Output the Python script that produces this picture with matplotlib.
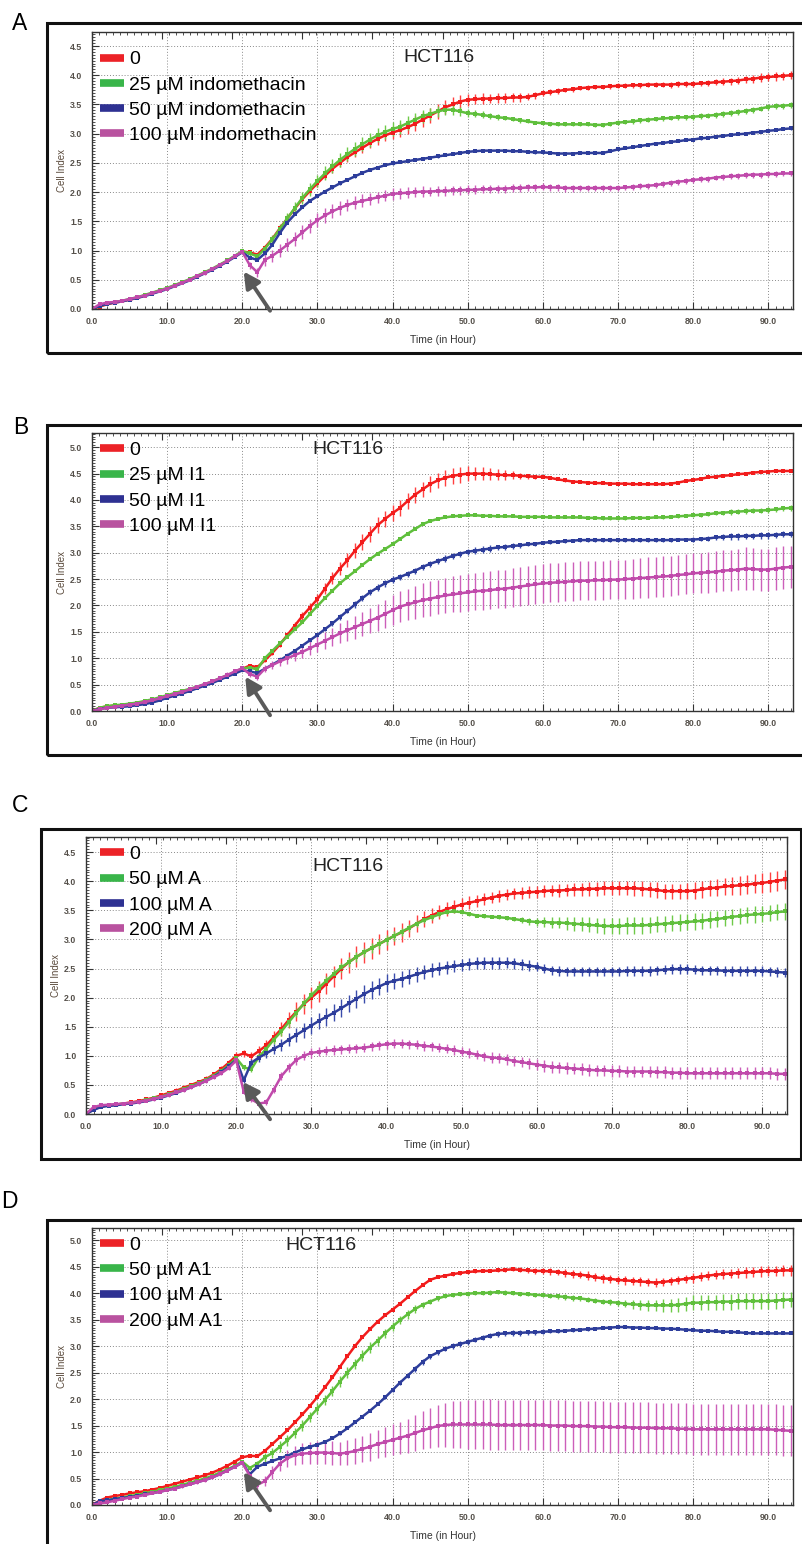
import numpy as np
import matplotlib
matplotlib.use('Agg')
import matplotlib.pyplot as plt
from matplotlib.lines import Line2D
from matplotlib.patches import Rectangle
from matplotlib.ticker import MultipleLocator, FormatStrFormatter

plt.rcParams['font.family'] = ['Liberation Sans', 'DejaVu Sans']

W, H = 802, 1544
hours = list(range(94))   # one reading per hour, 0 .. 93 h

# ---------------- panel A : indomethacin ----------------
A_red = [0.00, 0.04, 0.08, 0.11, 0.13, 0.16, 0.19, 0.23, 0.27, 0.31,
         0.35, 0.40, 0.45, 0.50, 0.56, 0.62, 0.68, 0.75, 0.82, 0.90,
         0.98, 0.97, 0.93, 1.05, 1.20, 1.38, 1.55, 1.72, 1.88, 2.02,
         2.15, 2.28, 2.40, 2.50, 2.60, 2.68, 2.76, 2.84, 2.91, 2.97,
         3.02, 3.06, 3.11, 3.17, 3.24, 3.31, 3.38, 3.45, 3.50, 3.55,
         3.58, 3.59, 3.60, 3.60, 3.61, 3.61, 3.62, 3.62, 3.63, 3.66,
         3.69, 3.71, 3.73, 3.75, 3.76, 3.78, 3.79, 3.80, 3.80, 3.81,
         3.82, 3.82, 3.83, 3.83, 3.84, 3.84, 3.84, 3.84, 3.85, 3.85,
         3.85, 3.86, 3.87, 3.88, 3.89, 3.90, 3.91, 3.93, 3.94, 3.96,
         3.97, 3.98, 3.99, 4.00]
A_red_err = [0, 1, 1, 1, 1, 1, 1, 1, 1, 1,
             1, 1, 1, 1, 1, 2, 2, 2, 2, 2,
             2, 3, 3, 3, 4, 4, 5, 5, 5, 6,
             6, 6, 7, 7, 8, 8, 9, 9, 10, 10,
             11, 12, 12, 13, 13, 13, 13, 12, 12, 11,
             10, 9, 9, 8, 8, 8, 7, 7, 6, 6,
             5, 5, 5, 4, 4, 4, 4, 4, 4, 4,
             4, 4, 4, 4, 4, 4, 4, 5, 5, 5,
             5, 5, 5, 5, 6, 6, 6, 6, 7, 7,
             7, 7, 7, 7]
A_green = [0.00, 0.05, 0.09, 0.12, 0.14, 0.17, 0.20, 0.24, 0.28, 0.32,
           0.36, 0.41, 0.46, 0.51, 0.57, 0.63, 0.69, 0.76, 0.83, 0.91,
           0.99, 0.95, 0.90, 1.03, 1.19, 1.37, 1.55, 1.73, 1.90, 2.05,
           2.19, 2.32, 2.44, 2.55, 2.65, 2.74, 2.82, 2.90, 2.97, 3.03,
           3.08, 3.12, 3.18, 3.24, 3.30, 3.34, 3.38, 3.41, 3.41, 3.38,
           3.35, 3.34, 3.32, 3.30, 3.28, 3.27, 3.25, 3.23, 3.21, 3.19,
           3.18, 3.17, 3.16, 3.16, 3.16, 3.16, 3.16, 3.15, 3.15, 3.17,
           3.19, 3.20, 3.21, 3.23, 3.24, 3.25, 3.26, 3.27, 3.28, 3.28,
           3.29, 3.30, 3.31, 3.32, 3.34, 3.35, 3.37, 3.39, 3.41, 3.43,
           3.46, 3.47, 3.48, 3.49]
A_green_err = [0, 1, 1, 1, 1, 1, 1, 1, 2, 2,
               2, 2, 2, 2, 2, 2, 2, 3, 3, 3,
               4, 5, 6, 7, 8, 9, 10, 10, 11, 11,
               11, 12, 12, 12, 12, 12, 12, 12, 12, 12,
               12, 12, 12, 11, 11, 10, 10, 9, 9, 8,
               7, 6, 6, 5, 5, 4, 4, 4, 3, 3,
               3, 3, 3, 3, 3, 3, 3, 3, 3, 3,
               4, 4, 4, 4, 4, 4, 4, 4, 4, 4,
               5, 5, 5, 5, 5, 5, 5, 5, 5, 5,
               5, 5, 5, 5]
A_blue = [0.00, 0.05, 0.09, 0.11, 0.13, 0.16, 0.19, 0.22, 0.26, 0.30,
          0.34, 0.39, 0.44, 0.49, 0.55, 0.61, 0.67, 0.74, 0.81, 0.89,
          0.97, 0.88, 0.84, 0.95, 1.10, 1.30, 1.48, 1.62, 1.74, 1.85,
          1.93, 2.01, 2.08, 2.15, 2.21, 2.27, 2.33, 2.38, 2.42, 2.46,
          2.49, 2.51, 2.53, 2.55, 2.57, 2.59, 2.61, 2.63, 2.65, 2.67,
          2.69, 2.70, 2.71, 2.71, 2.71, 2.71, 2.70, 2.70, 2.69, 2.68,
          2.68, 2.67, 2.66, 2.66, 2.66, 2.67, 2.67, 2.67, 2.67, 2.70,
          2.73, 2.75, 2.77, 2.79, 2.81, 2.83, 2.84, 2.86, 2.87, 2.89,
          2.90, 2.92, 2.93, 2.95, 2.96, 2.98, 2.99, 3.00, 3.02, 3.03,
          3.05, 3.06, 3.08, 3.09]
A_blue_err = [0, 1, 1, 1, 1, 1, 1, 1, 1, 1,
              1, 1, 1, 1, 1, 1, 1, 1, 1, 1,
              1, 2, 2, 2, 2, 2, 2, 2, 2, 2,
              2, 2, 2, 2, 2, 2, 2, 2, 2, 2,
              2, 2, 2, 2, 2, 2, 2, 2, 2, 2,
              2, 2, 2, 2, 2, 2, 2, 2, 2, 2,
              2, 2, 2, 2, 2, 2, 2, 2, 2, 2,
              2, 2, 2, 2, 2, 2, 2, 2, 2, 2,
              2, 2, 2, 2, 2, 2, 2, 2, 2, 2,
              2, 2, 2, 2]
A_mag = [0.00, 0.08, 0.11, 0.12, 0.14, 0.17, 0.20, 0.23, 0.27, 0.31,
         0.35, 0.40, 0.45, 0.50, 0.56, 0.62, 0.68, 0.75, 0.82, 0.90,
         0.98, 0.75, 0.63, 0.84, 0.91, 1.00, 1.10, 1.20, 1.31, 1.42,
         1.52, 1.60, 1.67, 1.73, 1.78, 1.82, 1.85, 1.88, 1.91, 1.94,
         1.97, 1.98, 1.99, 2.00, 2.01, 2.01, 2.02, 2.02, 2.03, 2.03,
         2.04, 2.04, 2.05, 2.05, 2.06, 2.06, 2.07, 2.07, 2.08, 2.08,
         2.09, 2.08, 2.08, 2.07, 2.07, 2.07, 2.07, 2.07, 2.07, 2.07,
         2.07, 2.08, 2.09, 2.10, 2.11, 2.12, 2.14, 2.16, 2.18, 2.19,
         2.21, 2.22, 2.23, 2.25, 2.26, 2.27, 2.28, 2.29, 2.30, 2.30,
         2.31, 2.31, 2.32, 2.32]
A_mag_err = [0, 2, 2, 2, 2, 2, 2, 2, 2, 2,
             2, 2, 2, 2, 2, 3, 3, 3, 3, 3,
             4, 6, 8, 10, 10, 11, 11, 12, 12, 12,
             12, 12, 12, 12, 11, 11, 11, 10, 10, 10,
             10, 9, 9, 9, 9, 8, 8, 8, 8, 8,
             8, 8, 7, 7, 7, 7, 7, 7, 6, 6,
             6, 6, 6, 6, 6, 5, 5, 5, 5, 5,
             5, 5, 5, 5, 5, 5, 5, 5, 5, 5,
             5, 5, 5, 5, 5, 5, 5, 5, 5, 5,
             5, 5, 5, 5]

# ---------------- panel B : I1 ----------------
B_red = [0.00, 0.06, 0.09, 0.10, 0.11, 0.12, 0.14, 0.17, 0.20, 0.24,
         0.29, 0.32, 0.36, 0.40, 0.45, 0.50, 0.55, 0.61, 0.67, 0.73,
         0.80, 0.86, 0.83, 0.96, 1.10, 1.26, 1.44, 1.62, 1.80, 1.96,
         2.12, 2.32, 2.52, 2.70, 2.86, 3.04, 3.20, 3.36, 3.52, 3.64,
         3.75, 3.85, 3.98, 4.10, 4.20, 4.30, 4.37, 4.42, 4.46, 4.48,
         4.50, 4.50, 4.50, 4.49, 4.48, 4.47, 4.47, 4.46, 4.45, 4.44,
         4.44, 4.42, 4.39, 4.37, 4.35, 4.34, 4.33, 4.32, 4.32, 4.31,
         4.31, 4.31, 4.30, 4.30, 4.30, 4.30, 4.30, 4.31, 4.33, 4.36,
         4.38, 4.40, 4.43, 4.44, 4.46, 4.47, 4.49, 4.50, 4.52, 4.53,
         4.54, 4.55, 4.55, 4.55]
B_red_err = [0, 1, 1, 1, 1, 1, 1, 1, 1, 1,
             1, 1, 1, 1, 2, 2, 2, 2, 2, 2,
             2, 2, 2, 3, 3, 4, 5, 6, 7, 8,
             9, 10, 11, 12, 13, 14, 15, 15, 15, 15,
             15, 15, 15, 15, 15, 15, 15, 15, 15, 15,
             14, 13, 12, 11, 10, 9, 8, 6, 5, 4,
             3, 3, 2, 2, 2, 2, 2, 2, 2, 2,
             2, 2, 2, 2, 2, 2, 2, 2, 2, 2,
             2, 2, 2, 2, 2, 2, 2, 2, 2, 2,
             2, 2, 2, 2]
B_green = [0.00, 0.06, 0.09, 0.11, 0.12, 0.14, 0.16, 0.19, 0.22, 0.26,
           0.30, 0.34, 0.38, 0.42, 0.46, 0.51, 0.56, 0.62, 0.68, 0.74,
           0.81, 0.82, 0.79, 1.00, 1.14, 1.28, 1.41, 1.55, 1.68, 1.84,
           1.99, 2.14, 2.28, 2.42, 2.54, 2.65, 2.77, 2.88, 2.98, 3.07,
           3.16, 3.26, 3.36, 3.45, 3.54, 3.60, 3.64, 3.67, 3.69, 3.70,
           3.71, 3.71, 3.70, 3.70, 3.69, 3.69, 3.69, 3.68, 3.68, 3.68,
           3.68, 3.67, 3.67, 3.67, 3.67, 3.67, 3.66, 3.66, 3.65, 3.65,
           3.65, 3.65, 3.66, 3.66, 3.66, 3.67, 3.67, 3.68, 3.69, 3.70,
           3.71, 3.72, 3.73, 3.75, 3.76, 3.77, 3.78, 3.79, 3.80, 3.80,
           3.81, 3.82, 3.84, 3.85]
B_green_err = [0, 1, 1, 1, 1, 1, 1, 1, 1, 1,
               1, 1, 1, 1, 1, 1, 1, 2, 2, 2,
               3, 3, 3, 3, 3, 2, 2, 2, 2, 2,
               2, 2, 2, 2, 2, 2, 2, 2, 2, 2,
               2, 2, 2, 2, 2, 2, 2, 2, 2, 2,
               2, 2, 2, 2, 2, 2, 2, 2, 2, 2,
               2, 2, 2, 2, 2, 2, 2, 2, 2, 2,
               2, 2, 2, 2, 2, 2, 3, 3, 3, 3,
               4, 4, 4, 4, 4, 5, 5, 5, 5, 5,
               5, 5, 5, 5]
B_blue = [0.00, 0.04, 0.06, 0.07, 0.08, 0.09, 0.11, 0.13, 0.16, 0.20,
          0.25, 0.29, 0.33, 0.38, 0.43, 0.48, 0.53, 0.59, 0.65, 0.71,
          0.77, 0.75, 0.72, 0.80, 0.88, 0.96, 1.05, 1.14, 1.24, 1.34,
          1.44, 1.55, 1.66, 1.78, 1.90, 2.02, 2.14, 2.25, 2.34, 2.42,
          2.49, 2.54, 2.60, 2.66, 2.73, 2.79, 2.84, 2.89, 2.94, 2.98,
          3.02, 3.04, 3.06, 3.08, 3.10, 3.11, 3.13, 3.14, 3.16, 3.17,
          3.19, 3.20, 3.21, 3.22, 3.23, 3.24, 3.24, 3.24, 3.24, 3.24,
          3.24, 3.24, 3.24, 3.24, 3.24, 3.24, 3.24, 3.24, 3.25, 3.25,
          3.25, 3.26, 3.27, 3.29, 3.30, 3.31, 3.31, 3.32, 3.32, 3.33,
          3.33, 3.34, 3.35, 3.35]
B_blue_err = [0, 1, 1, 1, 1, 1, 1, 1, 1, 1,
              1, 1, 1, 1, 1, 1, 1, 1, 1, 1,
              2, 2, 2, 2, 2, 3, 3, 3, 3, 4,
              4, 4, 5, 5, 5, 6, 6, 6, 6, 6,
              6, 6, 6, 6, 6, 6, 6, 6, 6, 6,
              6, 6, 6, 6, 5, 5, 5, 5, 4, 4,
              3, 3, 3, 3, 3, 3, 3, 3, 3, 3,
              3, 3, 3, 3, 3, 3, 3, 3, 3, 3,
              4, 4, 5, 5, 5, 6, 6, 6, 6, 6,
              6, 6, 6, 6]
B_mag = [0.00, 0.03, 0.06, 0.08, 0.10, 0.12, 0.14, 0.17, 0.20, 0.24,
         0.28, 0.32, 0.36, 0.41, 0.46, 0.51, 0.56, 0.62, 0.68, 0.75,
         0.81, 0.70, 0.65, 0.80, 0.87, 0.94, 1.00, 1.06, 1.12, 1.19,
         1.26, 1.33, 1.40, 1.47, 1.53, 1.59, 1.65, 1.71, 1.77, 1.84,
         1.91, 1.98, 2.02, 2.06, 2.10, 2.13, 2.16, 2.19, 2.21, 2.23,
         2.25, 2.27, 2.28, 2.29, 2.31, 2.32, 2.34, 2.36, 2.38, 2.40,
         2.42, 2.43, 2.44, 2.45, 2.46, 2.47, 2.47, 2.48, 2.48, 2.49,
         2.49, 2.50, 2.51, 2.52, 2.53, 2.54, 2.55, 2.56, 2.58, 2.59,
         2.61, 2.62, 2.63, 2.64, 2.66, 2.67, 2.68, 2.70, 2.69, 2.68,
         2.68, 2.70, 2.72, 2.73]
B_mag_err = [0, 2, 2, 2, 2, 2, 2, 3, 3, 3,
             3, 3, 3, 4, 4, 4, 4, 5, 5, 5,
             5, 6, 6, 7, 8, 9, 10, 11, 12, 13,
             15, 16, 17, 19, 20, 22, 23, 24, 26, 27,
             28, 29, 30, 31, 32, 33, 33, 34, 34, 35,
             35, 35, 36, 36, 36, 36, 37, 37, 37, 37,
             37, 37, 37, 37, 37, 37, 37, 37, 37, 37,
             37, 37, 38, 38, 38, 38, 38, 38, 38, 38,
             38, 38, 39, 39, 39, 39, 39, 40, 40, 40,
             40, 40, 40, 40]

# ---------------- panel C : A ----------------
C_red = [0.00, 0.08, 0.13, 0.15, 0.16, 0.18, 0.20, 0.22, 0.25, 0.28,
         0.32, 0.36, 0.40, 0.45, 0.50, 0.55, 0.60, 0.68, 0.77, 0.88,
         1.00, 1.04, 0.99, 1.08, 1.18, 1.32, 1.46, 1.62, 1.76, 1.89,
         2.00, 2.11, 2.24, 2.37, 2.50, 2.61, 2.70, 2.78, 2.85, 2.92,
         2.99, 3.06, 3.12, 3.19, 3.27, 3.35, 3.41, 3.47, 3.52, 3.56,
         3.60, 3.63, 3.66, 3.69, 3.72, 3.75, 3.77, 3.79, 3.80, 3.81,
         3.82, 3.83, 3.84, 3.84, 3.85, 3.86, 3.86, 3.87, 3.87, 3.88,
         3.88, 3.88, 3.88, 3.88, 3.87, 3.86, 3.85, 3.83, 3.83, 3.83,
         3.83, 3.84, 3.86, 3.88, 3.89, 3.91, 3.92, 3.93, 3.94, 3.96,
         3.97, 3.99, 4.01, 4.03]
C_red_err = [0, 2, 2, 2, 2, 3, 3, 3, 3, 3,
             3, 3, 4, 4, 4, 4, 5, 5, 5, 5,
             6, 6, 7, 8, 9, 10, 12, 14, 16, 17,
             18, 18, 18, 18, 18, 18, 18, 18, 18, 17,
             17, 16, 16, 15, 15, 14, 13, 12, 12, 11,
             11, 11, 10, 10, 10, 10, 10, 10, 10, 10,
             10, 10, 10, 11, 11, 11, 11, 12, 12, 12,
             12, 12, 12, 13, 13, 13, 13, 13, 13, 13,
             14, 14, 14, 14, 15, 15, 15, 16, 16, 16,
             17, 17, 17, 17]
C_green = [0.00, 0.08, 0.13, 0.15, 0.16, 0.18, 0.19, 0.21, 0.24, 0.27,
           0.30, 0.34, 0.38, 0.43, 0.48, 0.53, 0.59, 0.66, 0.74, 0.84,
           0.96, 0.80, 0.77, 0.98, 1.12, 1.28, 1.42, 1.58, 1.74, 1.90,
           2.04, 2.17, 2.29, 2.41, 2.52, 2.61, 2.70, 2.78, 2.85, 2.92,
           2.99, 3.06, 3.13, 3.20, 3.27, 3.33, 3.38, 3.43, 3.47, 3.48,
           3.47, 3.44, 3.41, 3.40, 3.39, 3.38, 3.37, 3.35, 3.33, 3.31,
           3.30, 3.30, 3.29, 3.29, 3.28, 3.27, 3.26, 3.25, 3.24, 3.23,
           3.23, 3.23, 3.24, 3.24, 3.24, 3.25, 3.26, 3.27, 3.28, 3.29,
           3.30, 3.31, 3.32, 3.34, 3.35, 3.37, 3.39, 3.40, 3.42, 3.43,
           3.44, 3.45, 3.47, 3.48]
C_green_err = [0, 1, 1, 1, 1, 1, 1, 2, 2, 2,
               2, 2, 2, 2, 2, 2, 2, 3, 3, 3,
               3, 4, 5, 6, 7, 8, 8, 8, 8, 8,
               8, 8, 8, 8, 8, 8, 8, 8, 8, 8,
               8, 8, 7, 7, 6, 5, 5, 4, 4, 3,
               3, 3, 3, 3, 3, 3, 3, 4, 5, 6,
               7, 8, 9, 10, 11, 12, 12, 13, 13, 14,
               14, 14, 14, 14, 14, 14, 14, 14, 14, 14,
               14, 14, 14, 14, 14, 14, 14, 14, 14, 14,
               14, 14, 14, 14]
C_blue = [0.00, 0.07, 0.12, 0.14, 0.15, 0.17, 0.18, 0.20, 0.22, 0.25,
          0.28, 0.32, 0.36, 0.41, 0.46, 0.51, 0.57, 0.64, 0.72, 0.82,
          0.93, 0.58, 0.88, 0.97, 1.04, 1.12, 1.19, 1.28, 1.36, 1.44,
          1.52, 1.60, 1.67, 1.74, 1.82, 1.90, 1.98, 2.06, 2.13, 2.19,
          2.25, 2.29, 2.32, 2.36, 2.40, 2.44, 2.47, 2.50, 2.52, 2.54,
          2.56, 2.58, 2.59, 2.60, 2.60, 2.60, 2.60, 2.59, 2.57, 2.55,
          2.53, 2.50, 2.47, 2.46, 2.45, 2.45, 2.45, 2.45, 2.45, 2.45,
          2.45, 2.45, 2.46, 2.46, 2.46, 2.46, 2.47, 2.48, 2.49, 2.49,
          2.49, 2.48, 2.47, 2.47, 2.47, 2.46, 2.46, 2.46, 2.46, 2.46,
          2.46, 2.45, 2.44, 2.43]
C_blue_err = [0, 1, 1, 1, 1, 1, 1, 1, 1, 1,
              1, 1, 1, 2, 2, 2, 2, 2, 2, 2,
              2, 4, 6, 7, 8, 9, 10, 11, 12, 13,
              14, 14, 15, 15, 15, 15, 15, 15, 15, 15,
              15, 14, 14, 13, 13, 12, 12, 11, 11, 10,
              10, 10, 10, 10, 10, 10, 9, 9, 9, 9,
              8, 8, 8, 8, 8, 8, 8, 8, 8, 8,
              8, 8, 8, 8, 8, 8, 8, 8, 8, 8,
              8, 8, 8, 8, 8, 8, 8, 8, 8, 8,
              8, 8, 8, 8]
C_mag = [0.00, 0.12, 0.15, 0.16, 0.17, 0.18, 0.19, 0.21, 0.23, 0.26,
         0.29, 0.33, 0.37, 0.41, 0.46, 0.51, 0.57, 0.63, 0.70, 0.79,
         0.92, 0.38, 0.25, 0.18, 0.20, 0.42, 0.65, 0.80, 0.93, 1.00,
         1.05, 1.07, 1.09, 1.10, 1.11, 1.12, 1.13, 1.14, 1.16, 1.18,
         1.20, 1.21, 1.21, 1.20, 1.19, 1.17, 1.16, 1.14, 1.12, 1.10,
         1.07, 1.05, 1.02, 0.99, 0.97, 0.96, 0.94, 0.91, 0.89, 0.87,
         0.85, 0.83, 0.81, 0.80, 0.79, 0.78, 0.77, 0.76, 0.75, 0.75,
         0.74, 0.74, 0.73, 0.73, 0.73, 0.73, 0.72, 0.72, 0.71, 0.71,
         0.70, 0.70, 0.70, 0.70, 0.70, 0.70, 0.70, 0.70, 0.70, 0.70,
         0.70, 0.70, 0.69, 0.69]
C_mag_err = [0, 2, 2, 2, 2, 2, 3, 3, 3, 3,
             3, 3, 3, 3, 3, 3, 3, 3, 3, 3,
             3, 4, 4, 4, 5, 6, 7, 8, 8, 8,
             8, 8, 8, 8, 8, 8, 8, 8, 8, 8,
             8, 8, 8, 8, 8, 8, 8, 8, 8, 8,
             8, 8, 8, 8, 9, 9, 9, 9, 9, 9,
             10, 10, 10, 10, 10, 10, 10, 10, 10, 10,
             10, 10, 10, 10, 10, 10, 10, 10, 10, 10,
             10, 10, 10, 10, 10, 10, 10, 10, 10, 10,
             10, 10, 10, 10]

# ---------------- panel D : A1 ----------------
D_red = [0.00, 0.08, 0.14, 0.17, 0.19, 0.22, 0.24, 0.26, 0.29, 0.32,
         0.36, 0.40, 0.44, 0.48, 0.52, 0.56, 0.61, 0.67, 0.74, 0.82,
         0.90, 0.93, 0.92, 1.02, 1.15, 1.28, 1.41, 1.56, 1.71, 1.87,
         2.04, 2.22, 2.41, 2.61, 2.81, 3.00, 3.17, 3.32, 3.46, 3.58,
         3.69, 3.80, 3.92, 4.04, 4.15, 4.25, 4.30, 4.33, 4.36, 4.38,
         4.40, 4.41, 4.42, 4.42, 4.43, 4.44, 4.45, 4.44, 4.43, 4.42,
         4.42, 4.41, 4.40, 4.38, 4.36, 4.35, 4.33, 4.30, 4.28, 4.27,
         4.25, 4.24, 4.23, 4.22, 4.21, 4.20, 4.21, 4.23, 4.25, 4.27,
         4.29, 4.31, 4.33, 4.35, 4.36, 4.37, 4.38, 4.39, 4.40, 4.41,
         4.42, 4.42, 4.43, 4.43]
D_red_err = [0, 1, 1, 1, 1, 1, 1, 1, 1, 1,
             1, 1, 1, 1, 1, 1, 1, 2, 2, 2,
             2, 2, 2, 2, 2, 2, 2, 2, 2, 2,
             2, 2, 2, 2, 2, 2, 2, 2, 2, 2,
             2, 2, 2, 2, 2, 2, 2, 2, 3, 3,
             3, 3, 3, 3, 4, 4, 4, 5, 5, 5,
             6, 6, 6, 7, 7, 7, 8, 8, 8, 8,
             8, 8, 8, 8, 8, 8, 8, 8, 8, 8,
             9, 9, 9, 9, 9, 9, 10, 10, 10, 10,
             10, 10, 10, 10]
D_green = [0.00, 0.05, 0.09, 0.12, 0.14, 0.17, 0.19, 0.22, 0.25, 0.28,
           0.31, 0.34, 0.38, 0.42, 0.46, 0.50, 0.55, 0.61, 0.67, 0.74,
           0.82, 0.70, 0.78, 0.90, 0.98, 1.10, 1.22, 1.36, 1.50, 1.66,
           1.82, 1.98, 2.15, 2.33, 2.50, 2.66, 2.82, 2.97, 3.10, 3.24,
           3.37, 3.49, 3.60, 3.70, 3.78, 3.84, 3.90, 3.94, 3.97, 3.98,
           3.99, 4.00, 4.00, 4.01, 4.02, 4.01, 4.00, 3.99, 3.98, 3.97,
           3.96, 3.95, 3.94, 3.93, 3.91, 3.90, 3.88, 3.86, 3.84, 3.83,
           3.82, 3.80, 3.79, 3.78, 3.77, 3.77, 3.77, 3.77, 3.78, 3.80,
           3.82, 3.82, 3.83, 3.83, 3.84, 3.84, 3.85, 3.85, 3.85, 3.85,
           3.85, 3.86, 3.87, 3.88]
D_green_err = [0, 1, 1, 1, 1, 1, 1, 1, 1, 1,
               1, 1, 1, 1, 2, 2, 2, 2, 2, 2,
               2, 4, 6, 8, 9, 10, 10, 10, 10, 10,
               10, 10, 10, 10, 10, 10, 10, 10, 10, 9,
               9, 8, 8, 7, 6, 5, 5, 4, 4, 4,
               4, 4, 4, 4, 4, 4, 4, 4, 4, 4,
               4, 4, 5, 5, 5, 5, 5, 5, 5, 6,
               6, 7, 8, 9, 10, 11, 12, 12, 13, 13,
               14, 14, 14, 14, 15, 15, 15, 15, 15, 15,
               15, 15, 15, 15]
D_blue = [0.00, 0.07, 0.09, 0.11, 0.13, 0.15, 0.17, 0.20, 0.22, 0.25,
          0.28, 0.31, 0.35, 0.39, 0.43, 0.47, 0.52, 0.58, 0.65, 0.72,
          0.80, 0.58, 0.72, 0.78, 0.83, 0.88, 0.93, 0.99, 1.05, 1.10,
          1.14, 1.19, 1.26, 1.35, 1.45, 1.56, 1.67, 1.78, 1.90, 2.03,
          2.17, 2.31, 2.44, 2.57, 2.70, 2.81, 2.88, 2.95, 3.00, 3.04,
          3.08, 3.12, 3.16, 3.20, 3.23, 3.24, 3.25, 3.25, 3.26, 3.26,
          3.27, 3.28, 3.28, 3.29, 3.30, 3.31, 3.32, 3.33, 3.34, 3.35,
          3.36, 3.36, 3.35, 3.35, 3.34, 3.34, 3.33, 3.33, 3.32, 3.31,
          3.30, 3.29, 3.29, 3.28, 3.27, 3.27, 3.26, 3.25, 3.24, 3.24,
          3.24, 3.24, 3.24, 3.24]
D_blue_err = [0, 1, 1, 1, 1, 1, 1, 1, 1, 1,
              1, 1, 1, 1, 1, 1, 1, 1, 1, 1,
              2, 2, 2, 2, 2, 2, 2, 2, 2, 2,
              2, 2, 2, 2, 2, 2, 2, 2, 2, 3,
              4, 5, 5, 5, 5, 5, 5, 5, 5, 5,
              5, 5, 5, 5, 5, 5, 5, 5, 5, 5,
              5, 4, 3, 3, 3, 3, 3, 2, 2, 2,
              2, 2, 2, 2, 2, 2, 2, 2, 2, 2,
              2, 2, 2, 2, 2, 2, 2, 2, 2, 2,
              2, 2, 2, 2]
D_mag = [0.00, 0.03, 0.05, 0.08, 0.11, 0.14, 0.16, 0.19, 0.22, 0.25,
         0.28, 0.31, 0.35, 0.39, 0.43, 0.47, 0.52, 0.58, 0.65, 0.72,
         0.80, 0.55, 0.38, 0.45, 0.62, 0.78, 0.88, 0.94, 0.97, 0.98,
         0.99, 0.99, 0.98, 0.97, 0.99, 1.02, 1.06, 1.10, 1.15, 1.19,
         1.23, 1.27, 1.31, 1.36, 1.41, 1.45, 1.49, 1.51, 1.52, 1.52,
         1.52, 1.52, 1.52, 1.52, 1.51, 1.51, 1.51, 1.51, 1.51, 1.51,
         1.51, 1.50, 1.50, 1.50, 1.49, 1.49, 1.49, 1.48, 1.48, 1.47,
         1.47, 1.47, 1.46, 1.46, 1.46, 1.45, 1.45, 1.45, 1.44, 1.44,
         1.43, 1.43, 1.43, 1.43, 1.43, 1.43, 1.43, 1.43, 1.43, 1.43,
         1.43, 1.42, 1.41, 1.40]
D_mag_err = [0, 2, 2, 2, 2, 2, 2, 2, 2, 2,
             2, 2, 2, 2, 3, 3, 3, 3, 3, 3,
             3, 5, 8, 10, 12, 14, 16, 18, 20, 21,
             22, 22, 22, 22, 23, 24, 25, 26, 27, 28,
             29, 30, 32, 34, 36, 38, 40, 42, 44, 45,
             46, 47, 47, 48, 48, 48, 48, 48, 48, 48,
             48, 48, 48, 48, 48, 48, 48, 48, 48, 48,
             48, 48, 48, 48, 48, 48, 48, 48, 48, 48,
             48, 48, 48, 48, 48, 48, 48, 48, 48, 48,
             48, 48, 48, 48]

A_labels = ['0', '25 µM indomethacin', '50 µM indomethacin', '100 µM indomethacin']
B_labels = ['0', '25 µM I1', '50 µM I1', '100 µM I1']
C_labels = ['0', '50 µM A', '100 µM A', '200 µM A']
D_labels = ['0', '50 µM A1', '100 µM A1', '200 µM A1']

line_colors = ['#f21c1c', '#5fbf3c', '#2d3d9b', '#c04aab']
err_colors = ['#ff4040', '#6fca48', '#3a4cab', '#cc5fba']
legend_colors = ['#ec2227', '#39b54a', '#2e3192', '#b9529f']

fig = plt.figure(figsize=(W / 100, H / 100), dpi=100)


def px_rect(l, t, r, b):
    return [l / W, 1 - b / H, (r - l) / W, (b - t) / H]


def draw_panel(box, frame, letter, letter_pos, ymax, series, errs, labels,
               leg_anchor, hct_pos, arrow_head, arrow_tail):
    # outer black frame
    fl, ft, fr, fb = frame
    fig.add_artist(Rectangle((fl / W, 1 - fb / H), (fr - fl) / W, (fb - ft) / H,
                             transform=fig.transFigure, fill=False,
                             lw=2.2, ec='#111111'))
    fig.text(letter_pos[0] / W, 1 - letter_pos[1] / H, letter,
             fontsize=16.5, ha='left', va='center')

    ax = fig.add_axes(px_rect(*box))
    for vals, err, c, ec in zip(series, errs, line_colors, err_colors):
        ax.errorbar(hours, vals, yerr=np.array(err) / 100.0, fmt='-',
                    marker='s', ms=2.8, mew=0, lw=1.8, color=c,
                    ecolor=ec, elinewidth=1.0, capsize=1.6, capthick=0.9)

    ax.set_xlim(0, 93.3)
    ax.set_ylim(0, ymax)
    ax.xaxis.set_major_locator(MultipleLocator(10))
    ax.xaxis.set_minor_locator(MultipleLocator(1))
    ax.yaxis.set_major_locator(MultipleLocator(0.5))
    ax.yaxis.set_minor_locator(MultipleLocator(0.05))
    ax.xaxis.set_major_formatter(FormatStrFormatter('%.1f'))
    ax.yaxis.set_major_formatter(FormatStrFormatter('%.1f'))
    ax.tick_params(which='both', direction='in', top=False, right=False,
                   color='#333333')
    ax.tick_params(which='major', length=5, width=0.8)
    ax.tick_params(which='minor', length=2.5, width=0.6)
    ax.tick_params(axis='x', labelsize=6.3, labelcolor='#55504a', pad=6)
    ax.tick_params(axis='y', labelsize=6.3, labelcolor='#55504a', pad=7)
    plt.setp(ax.get_xticklabels(), fontweight='bold')
    plt.setp(ax.get_yticklabels(), fontweight='bold')
    ax.grid(True, which='major', ls=(0, (1, 2)), color='#8a8a8a', lw=0.7)
    for s in ax.spines.values():
        s.set_color('#333333')
        s.set_linewidth(1.0)

    ax.set_ylabel('Cell Index', fontsize=7, color='#5a4a3c', labelpad=2)
    ax.set_xlabel('Time (in Hour)', fontsize=7.5, color='#333333', labelpad=6)

    # top axis: ten equal sweeps with fine ticks, no labels
    top = ax.twiny()
    top.set_xlim(0, 10)
    top.xaxis.set_major_locator(MultipleLocator(1))
    top.xaxis.set_minor_locator(MultipleLocator(0.1))
    top.tick_params(which='both', direction='in', labeltop=False,
                    color='#333333')
    top.tick_params(which='major', length=5, width=0.8)
    top.tick_params(which='minor', length=2.5, width=0.6)
    for s in top.spines.values():
        s.set_visible(False)

    handles = [Line2D([0], [0], color=c, lw=5.5, solid_capstyle='butt')
               for c in legend_colors]
    ax.legend(handles, labels, loc='upper left', bbox_to_anchor=leg_anchor,
              frameon=False, fontsize=14, handlelength=1.25,
              handletextpad=0.25, labelspacing=0.39, borderpad=0,
              borderaxespad=0)

    ax.text(hct_pos[0], hct_pos[1], 'HCT116', fontsize=14, color='#222222',
            ha='left', va='center')

    ax.annotate('', xy=arrow_head, xytext=arrow_tail,
                arrowprops=dict(arrowstyle='-|>,head_length=0.95,head_width=0.5',
                                lw=2.8, color='#5a5a5a', shrinkA=0, shrinkB=0,
                                mutation_scale=10),
                annotation_clip=False)
    return ax


draw_panel((92, 32, 793, 309), (47, 23, 815, 353), 'A', (12, 23), 4.74,
           [A_red, A_green, A_blue, A_mag],
           [A_red_err, A_green_err, A_blue_err, A_mag_err], A_labels,
           (0.0114, 0.932), (41.4, 4.31), (20.2, 0.64), (23.7, -0.03))

draw_panel((92, 433, 793, 711), (47, 425, 815, 755), 'B', (13, 428), 5.27,
           [B_red, B_green, B_blue, B_mag],
           [B_red_err, B_green_err, B_blue_err, B_mag_err], B_labels,
           (0.0114, 0.969), (29.3, 4.96), (20.4, 0.65), (23.7, -0.08))

draw_panel((86, 837, 787, 1114), (41, 829, 801, 1159), 'C', (12, 806), 4.76,
           [C_red, C_green, C_blue, C_mag],
           [C_red_err, C_green_err, C_blue_err, C_mag_err], C_labels,
           (0.02, 0.969), (30.1, 4.26), (20.9, 0.55), (24.5, -0.09))

draw_panel((92, 1228, 793, 1505), (47, 1220, 815, 1560), 'D', (1, 1202), 5.23,
           [D_red, D_green, D_blue, D_mag],
           [D_red_err, D_green_err, D_blue_err, D_mag_err], D_labels,
           (0.0114, 0.97), (25.8, 4.9), (20.2, 0.62), (23.7, -0.1))

fig.savefig('out.png', dpi=100)
